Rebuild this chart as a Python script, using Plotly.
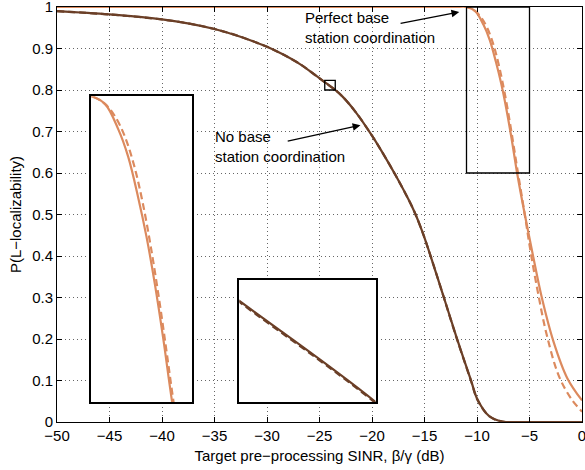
import plotly.graph_objects as go

# ---- data ----
no_coord_x = [-50, -45, -40, -37.4, -35, -32.6, -30, -28.5, -26.9, -25.3, -24.5, -23.5, -22.8, -21.5,
              -20, -19, -17.7, -16.4, -15.9, -15.2, -14.55, -13.28, -12.0, -10.58, -9.95, -8.84, -7.6,
              -6, -3, 0]
no_coord_solid = [0.99, 0.982, 0.97, 0.96, 0.947, 0.929, 0.904, 0.886, 0.863, 0.834, 0.819, 0.800, 0.784,
                  0.745, 0.690, 0.649, 0.592, 0.530, 0.503, 0.458, 0.41, 0.31, 0.208, 0.101, 0.054, 0.014,
                  0.001, 0, 0, 0]
no_coord_dash = [0.99, 0.982, 0.97, 0.96, 0.947, 0.929, 0.904, 0.886, 0.863, 0.834, 0.8188, 0.7998, 0.784,
                 0.745, 0.690, 0.649, 0.592, 0.530, 0.503, 0.458, 0.41, 0.31, 0.207, 0.100, 0.053, 0.014,
                 0.001, 0, 0, 0]

perfect_solid_x = [-50, -40, -30, -20, -14, -12, -11, -10.17, -9.38, -8.79, -8.2, -7.7, -7.21, -6.72,
                   -6.18, -5.45, -4.66, -3.83, -2.73, -1.39, 0]
perfect_solid_y = [1, 1, 1, 1, 1, 1, 1, 0.990, 0.957, 0.921, 0.868, 0.816, 0.755, 0.685,
                   0.6, 0.5, 0.4, 0.3, 0.195, 0.105, 0.052]

perfect_dash_x = [-50, -40, -30, -20, -14, -12, -11, -10.17, -9.58, -8.99, -8.42, -7.93, -7.43, -6.93,
                  -6.53, -6.18, -5.45, -4.88, -4.18, -3.36, -2.19, -1.0, 0]
perfect_dash_y = [1, 1, 1, 1, 1, 1, 1, 0.990, 0.974, 0.9475, 0.908, 0.861, 0.801, 0.731,
                  0.669, 0.613, 0.5, 0.408, 0.31, 0.21, 0.11, 0.055, 0.025]

BROWN = "#6B3F27"
ORANGE = "#DC8A5E"
FONT = "Liberation Sans"
FS = 15

fig = go.Figure()

series = [
    (no_coord_x, no_coord_solid, BROWN, "solid"),
    (no_coord_x, no_coord_dash, BROWN, "7px,4px"),
    (perfect_dash_x, perfect_dash_y, ORANGE, "7px,4px"),
    (perfect_solid_x, perfect_solid_y, ORANGE, "solid"),
]

for xa, ya in [("x", "y"), ("x2", "y2"), ("x3", "y3")]:
    for xs, ys, col, dash in series:
        fig.add_trace(go.Scatter(
            x=xs, y=ys, mode="lines", xaxis=xa, yaxis=ya,
            line=dict(color=col, width=2.2, dash=dash, shape="spline", smoothing=1.0,
                      simplify=False),
            showlegend=False, hoverinfo="skip",
            cliponaxis=(xa != "x"),
        ))

axis_common = dict(
    showline=True, linecolor="black", linewidth=1, mirror="ticks",
    ticks="inside", ticklen=5, tickcolor="black",
    showgrid=True, gridcolor="#666666", griddash="1px,3px", gridwidth=1,
    zeroline=False, tickfont=dict(family=FONT, size=FS, color="black"),
    automargin=False, ticklabeloverflow="allow",
)

inset_axis = dict(showline=True, linecolor="black", linewidth=1.6, mirror=True,
                  ticks="", showticklabels=False, showgrid=False, zeroline=False,
                  automargin=False)

fig.update_layout(
    width=585, height=470,
    margin=dict(l=57, r=3, t=7, b=48),
    paper_bgcolor="white", plot_bgcolor="white",
    font=dict(family=FONT, size=FS, color="black"),
    xaxis=dict(range=[-50, 0], dtick=5, tick0=0, domain=[0, 1],
               title=dict(text="Target pre\u2212processing SINR, \u03b2/\u03b3 (dB)",
                          font=dict(family=FONT, size=FS), standoff=7),
               **axis_common),
    yaxis=dict(range=[0, 1], dtick=0.1, tick0=0, domain=[0, 1],
               title=dict(text="P(L\u2212localizability)",
                          font=dict(family=FONT, size=FS), standoff=6),
               **axis_common),
    xaxis2=dict(range=[-11, -5], domain=[0.0646, 0.2572], anchor="y2", **inset_axis),
    yaxis2=dict(range=[0.6, 1], domain=[0.048, 0.785], anchor="x2", **inset_axis),
    xaxis3=dict(range=[-24.5, -23.5], domain=[0.3474, 0.607], anchor="y3", **inset_axis),
    yaxis3=dict(range=[0.8, 0.823], domain=[0.048, 0.343], anchor="x3", **inset_axis),
)

# zoom region boxes
fig.add_shape(type="rect", xref="x", yref="y", x0=-11, x1=-5, y0=0.6, y1=1,
              line=dict(color="black", width=1.3))
fig.add_shape(type="rect", xref="x", yref="y", x0=-24.5, x1=-23.5, y0=0.8, y1=0.823,
              line=dict(color="black", width=1.3))

# labels
fig.add_annotation(x=-26.6, y=0.95, xref="x", yref="y", text="Perfect base<br>station coordination",
                   showarrow=False, xanchor="left", yanchor="middle", align="left",
                   font=dict(family=FONT, size=FS, color="black"))
fig.add_annotation(x=-35.15, y=0.663, xref="x", yref="y", text="No base<br>station coordination",
                   showarrow=False, xanchor="left", yanchor="middle", align="left",
                   font=dict(family=FONT, size=FS, color="black"))

# arrows
fig.add_annotation(x=-11.69, y=0.988, ax=-17.42, ay=0.96, xref="x", yref="y", axref="x", ayref="y",
                   text="", showarrow=True, arrowhead=2, arrowsize=1.2, arrowwidth=1.3,
                   arrowcolor="black", standoff=0)
fig.add_annotation(x=-21.1, y=0.715, ax=-28.17, ay=0.676, xref="x", yref="y", axref="x", ayref="y",
                   text="", showarrow=True, arrowhead=2, arrowsize=1.2, arrowwidth=1.3,
                   arrowcolor="black", standoff=0)

fig.write_html("out.html", config={"displayModeBar": False},
               post_script="document.body.style.margin='0';document.body.style.padding='0';")
